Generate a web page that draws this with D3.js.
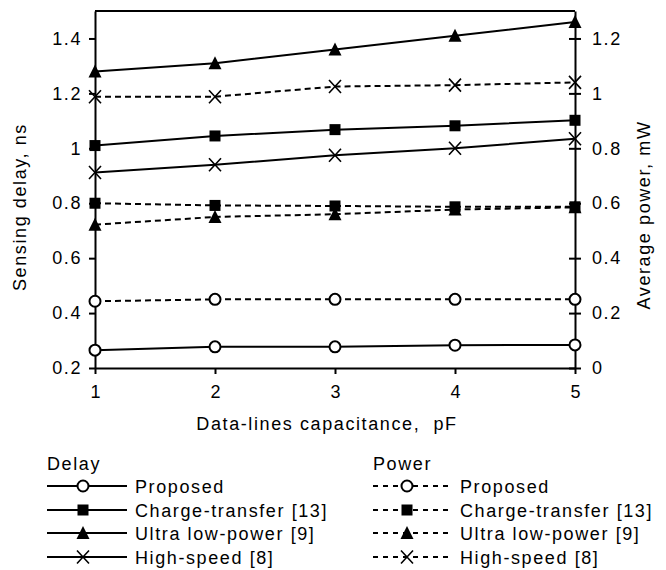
<!DOCTYPE html>
<html>
<head>
<meta charset="utf-8">
<script src="https://cdn.jsdelivr.net/npm/d3@7"></script>
<style>
  body { margin: 0; background: #fff; }
  svg { font-family: "Liberation Sans", Arial, sans-serif; }
  text { letter-spacing: 1.6px; white-space: pre; }
</style>
</head>
<body>
<svg id="chart" width="666" height="570"></svg>
<script>
// capacitance values on the x axis (pF)
const capacitance = [1, 2, 3, 4, 5];

// sensing delay, ns (solid lines, left axis)
const delayProposed = [0.265, 0.277, 0.277, 0.283, 0.284];
const delayChargeTransfer = [1.01, 1.045, 1.068, 1.082, 1.102];
const delayUltraLowPower = [1.28, 1.31, 1.36, 1.41, 1.46];
const delayHighSpeed = [0.912, 0.94, 0.975, 1.0, 1.035];

// average power, mW (dashed lines, right axis)
const powerProposed = [0.243, 0.25, 0.25, 0.25, 0.25];
const powerChargeTransfer = [0.6, 0.592, 0.59, 0.587, 0.587];
const powerUltraLowPower = [0.522, 0.55, 0.56, 0.577, 0.585];
const powerHighSpeed = [0.988, 0.988, 1.025, 1.03, 1.04];

const seriesNames = ["Proposed", "Charge-transfer [13]", "Ultra low-power [9]", "High-speed [8]"];
const markerTypes = ["circle", "square", "triangle", "cross"];

const xTicks = [1, 2, 3, 4, 5];
const leftTicks = [0.2, 0.4, 0.6, 0.8, 1, 1.2, 1.4];
const rightTicks = [0, 0.2, 0.4, 0.6, 0.8, 1, 1.2];

const svg = d3.select("#chart");
const plotL = 95, plotR = 575, plotT = 11, plotB = 368;

const x = d3.scaleLinear().domain([1, 5]).range([plotL, plotR]);
const yL = d3.scaleLinear().domain([0.2, 1.5]).range([plotB, plotT]);
const yR = d3.scaleLinear().domain([0, 1.3]).range([plotB, plotT]);

const fmt = d => String(+d.toFixed(1));

// axes
const gx = svg.append("g").attr("transform", `translate(0,${plotB})`)
  .call(d3.axisBottom(x).tickValues(xTicks).tickSize(6).tickSizeOuter(0).tickPadding(11).tickFormat(d3.format("d")));
const gl = svg.append("g").attr("transform", `translate(${plotL},0)`)
  .call(d3.axisLeft(yL).tickValues(leftTicks).tickSize(6).tickSizeOuter(0).tickPadding(7).tickFormat(fmt));
const gr = svg.append("g").attr("transform", `translate(${plotR},0)`)
  .call(d3.axisRight(yR).tickValues(rightTicks).tickSize(6).tickSizeOuter(0).tickPadding(11).tickFormat(fmt));
gr.selectAll(".tick line").attr("x1", -6);

[gx, gl, gr].forEach(g => {
  g.selectAll("path.domain").attr("stroke", "#000").attr("stroke-width", 2);
  g.selectAll(".tick line").attr("stroke", "#000").attr("stroke-width", 2);
  g.selectAll("text").attr("font-size", 18).attr("font-family", "Liberation Sans, Arial, sans-serif").attr("fill", "#000");
});
gx.selectAll("text").attr("dx", "0.8");

// top border
svg.append("line").attr("x1", plotL).attr("x2", plotR).attr("y1", plotT).attr("y2", plotT)
  .attr("stroke", "#000").attr("stroke-width", 2);

// axis titles
svg.append("text").attr("x", 327).attr("y", 430).attr("text-anchor", "middle")
  .attr("font-size", 18).text("Data-lines capacitance,  pF");
svg.append("text").attr("transform", "translate(26,207) rotate(-90)").attr("text-anchor", "middle")
  .attr("font-size", 18).text("Sensing delay, ns");
svg.append("text").attr("transform", "translate(650,215) rotate(-90)").attr("text-anchor", "middle")
  .attr("font-size", 18).text("Average power, mW");

function marker(g, type, cx, cy) {
  if (type === "circle") {
    g.append("circle").attr("cx", cx).attr("cy", cy).attr("r", 5.5)
      .attr("fill", "#fff").attr("stroke", "#000").attr("stroke-width", 2);
  } else if (type === "square") {
    g.append("rect").attr("x", cx - 5.5).attr("y", cy - 5.5).attr("width", 11).attr("height", 11).attr("fill", "#000");
  } else if (type === "triangle") {
    g.append("path").attr("d", `M${cx},${cy - 7}L${cx + 6.5},${cy + 6}L${cx - 6.5},${cy + 6}Z`).attr("fill", "#000");
  } else {
    g.append("path").attr("d", `M${cx - 6},${cy - 6.5}L${cx + 6},${cy + 6.5}M${cx - 6},${cy + 6.5}L${cx + 6},${cy - 6.5}`)
      .attr("stroke", "#000").attr("stroke-width", 1.6);
  }
}

const delaySeries = [delayProposed, delayChargeTransfer, delayUltraLowPower, delayHighSpeed];
const powerSeries = [powerProposed, powerChargeTransfer, powerUltraLowPower, powerHighSpeed];

const plot = svg.append("g");
function drawSeries(vals, yScale, type, dashed) {
  const pts = vals.map((v, i) => [x(capacitance[i]), yScale(v)]);
  plot.append("path").attr("d", d3.line()(pts)).attr("fill", "none")
    .attr("stroke", "#000").attr("stroke-width", 2)
    .attr("stroke-dasharray", dashed ? "6,4" : null);
  pts.forEach(p => marker(plot, type, p[0], p[1]));
}
powerSeries.forEach((s, i) => drawSeries(s, yR, markerTypes[i], true));
delaySeries.forEach((s, i) => drawSeries(s, yL, markerTypes[i], false));

// legend
const rowsY = [486, 510, 533, 557];
function legendBlock(x0, title, dashed, lineEnd, markX, textX) {
  const g = svg.append("g");
  g.append("text").attr("x", x0).attr("y", 470).attr("font-size", 18).text(title);
  seriesNames.forEach((name, i) => {
    const cy = rowsY[i];
    g.append("line").attr("x1", x0).attr("x2", lineEnd).attr("y1", cy).attr("y2", cy)
      .attr("stroke", "#000").attr("stroke-width", 2).attr("stroke-dasharray", dashed ? "5,5" : null);
    marker(g, markerTypes[i], markX, cy);
    g.append("text").attr("x", textX).attr("y", cy + 6.5).attr("font-size", 18).text(name);
  });
}
legendBlock(47, "Delay", false, 127, 83, 135);
legendBlock(373, "Power", true, 448, 407, 460);
</script>
</body>
</html>
